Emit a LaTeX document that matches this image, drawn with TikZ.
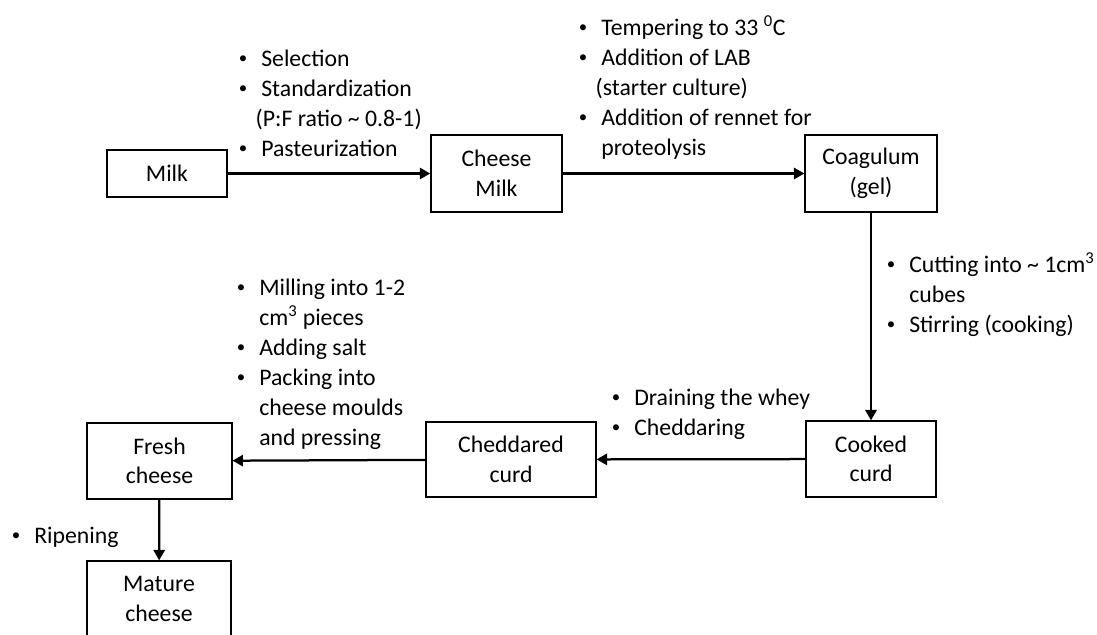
\documentclass[tikz,border=0pt]{standalone}
\usepackage{fontspec}
\setmainfont{Carlito}
\usepackage{tikz}
\usetikzlibrary{arrows.meta,positioning}
\newcommand{\bul}{\makebox[6mm][l]{\hspace*{0.4mm}\raisebox{0.25ex}{\fontsize{12}{12}\selectfont\textbullet}}}
\newcommand{\cont}{\hspace*{6mm}}
\newcommand{\paren}{\hspace*{4.6mm}}
\tikzset{
  box/.style={draw,line width=0.9pt,minimum height=1.9cm,align=center,inner sep=0pt,font=\fontsize{16.9}{21}\selectfont},
  steps/.style={align=left,inner sep=0pt,anchor=base west,font=\fontsize{16.9}{21.3}\selectfont},
  arrow/.style={-{Triangle[length=2.6mm,width=2.8mm]},line width=1.6pt}
}

\begin{document}
\begin{tikzpicture}[x=0.025cm,y=-0.025cm]
\useasboundingbox (0,0) rectangle (1097,634);
% top row
\node[box,minimum width=3cm,minimum height=1.18cm] (milk) at (167,173.5) {Milk};
\node[box,minimum width=3.28cm,minimum height=1.92cm] (cmilk) at (496.5,173.5) {Cheese\\Milk};
\node[box,minimum width=3.3cm,minimum height=1.92cm] (coag) at (871,173.5) {Coagulum\\(gel)};
% bottom row
\node[box,minimum width=3.25cm] (cooked) at (871,459) {Cooked\\curd};
\node[box,minimum width=4.25cm,minimum height=1.88cm] (chedd) at (511,459.5) {Cheddared\\curd};
\node[box,minimum width=3.62cm] (fresh) at (159.5,461) {Fresh\\cheese};
\node[box,minimum width=3.6cm] (mature) at (159,599) {Mature\\cheese};
% process steps (placed at the baseline of their last line)
\node[steps] (prep) at (237,156) {\bul Selection\\\bul Standardization\\\paren(P:F ratio \textasciitilde{} 0.8-1)\\\bul Pasteurization};
\node[steps] (renn) at (577,155) {\bul Tempering to 33 \textsuperscript{0}C\\\bul Addition of LAB\\\paren(starter culture)\\\bul Addition of rennet for\\\cont proteolysis};
\node[steps] (cut) at (885,332) {\bul Cutting into \textasciitilde{} 1cm\textsuperscript{3}\\\cont cubes\\\bul Stirring (cooking)};
\node[steps] (drain) at (610,435) {\bul Draining the whey\\\bul Cheddaring};
\node[steps] (mill) at (235,445) {\bul Milling into 1-2\\\cont cm\textsuperscript{3} pieces\\\bul Adding salt\\\bul Packing into\\\cont cheese moulds\\\cont and pressing};
\node[steps] (ripe) at (10,543) {\bul Ripening};
% arrows
\draw[arrow] (milk) -- (cmilk);
\draw[arrow] (cmilk) -- (coag);
\draw[arrow] (coag) -- (cooked);
\draw[arrow] (cooked) -- (chedd);
\draw[arrow] (chedd) -- (fresh);
\draw[arrow] (fresh) -- (mature);
\end{tikzpicture}
\end{document}
